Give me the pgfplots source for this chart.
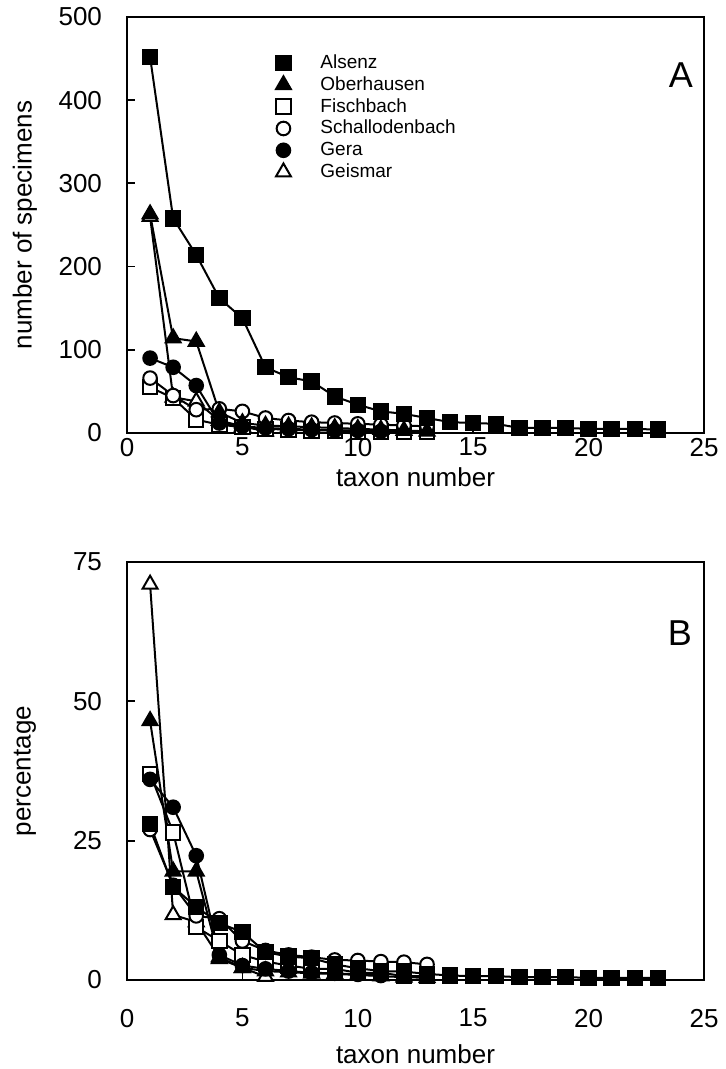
\documentclass[border=0pt]{standalone}
\usepackage{fontspec}
\setmainfont{Liberation Sans}
\usepackage{pgfplots}
\pgfplotsset{compat=1.18}
\pgfplotsset{
  mylegimg/.style={legend image code/.code={\path[draw=none,fill=none] (0pt,-3pt) rectangle (17pt,3pt); \draw[##1] plot coordinates {(8.5pt,0pt)};}},
  panel/.style={scale only axis, width=288.5pt, xmin=0, xmax=25, xtick={0,5,...,25}, ymin=0,
    axis line style={line width=1.4pt}, tick align=inside, xtick pos=bottom, ytick pos=left,
    major tick length=4pt, tick style={line width=0.9pt, black},
    font=\fontsize{13}{15}\selectfont, /pgf/number format/assume math mode=true,
    yticklabel style={xshift=-9pt},
    ylabel style={at={(axis description cs:-0.177,0.5)}, anchor=center},
    clip=false},
  ser/.style={line width=1pt, black, mark options={solid, line width=0.9pt, draw=black}},
  alsenz/.style={ser, mark=square*, mark size=3.6pt, mark options={fill=black}},
  ober/.style={ser, mark=triangle*, mark size=4.3pt, mark options={fill=black}},
  fisch/.style={ser, mark=square*, mark size=3.6pt, mark options={fill=white}},
  schall/.style={ser, mark=*, mark size=3.4pt, mark options={fill=white}},
  gera/.style={ser, mark=*, mark size=3.4pt, mark options={fill=black}},
  geis/.style={ser, mark=triangle*, mark size=4.3pt, mark options={fill=white}},
}
\begin{document}
\begin{tikzpicture}
\begin{axis}[panel, at={(63.5pt,318pt)}, anchor=south west, height=208pt, ymax=500,
  ytick={0,100,...,500},
  xlabel={taxon number}, ylabel={number of specimens},
  xticklabel style={yshift=1pt},
  xlabel style={at={(axis description cs:0.5,-0.107)}, anchor=center},
  legend style={at={(axis description cs:0.241,0.913)}, anchor=north west, draw=none, fill=none,
    inner sep=0pt, font=\fontsize{9.5}{11}\selectfont,
    nodes={inner sep=0pt, text height=7.5pt, text depth=2pt}, row sep=1.4pt, column sep=10pt},
  legend cell align=left]
\addlegendimage{only marks, alsenz, mylegimg}
\addlegendentry{Alsenz}
\addlegendimage{only marks, ober, mylegimg}
\addlegendentry{Oberhausen}
\addlegendimage{only marks, fisch, mylegimg}
\addlegendentry{Fischbach}
\addlegendimage{only marks, schall, mylegimg}
\addlegendentry{Schallodenbach}
\addlegendimage{only marks, gera, mylegimg}
\addlegendentry{Gera}
\addlegendimage{only marks, geis, mylegimg}
\addlegendentry{Geismar}
\addplot[geis, forget plot] coordinates {(1,260)(2,43)(3,38)(4,15)(5,8)(6,2)};
\addplot[fisch, forget plot] coordinates {(1,55)(2,42)(3,16)(4,10)(5,7)(6,5)(7,4)(8,3)(9,3)(10,2)(11,2)(12,1)(13,1)};
\addplot[schall, forget plot] coordinates {(1,66)(2,45)(3,28)(4,29)(5,26)(6,18)(7,15)(8,13)(9,12)(10,11)(11,10)(12,9)(13,8)};
\addplot[gera, forget plot] coordinates {(1,90)(2,79)(3,57)(4,12)(5,8)(6,6)(7,5)(8,4)(9,3)(10,3)(11,2)};
\addplot[ober, forget plot] coordinates {(1,263)(2,114)(3,110)(4,25)(5,12)(6,9)(7,8)(8,7)(9,6)(10,5)(11,4)(12,3)(13,2)};
\addplot[alsenz, forget plot] coordinates {(1,452)(2,258)(3,214)(4,162)(5,138)(6,79)(7,67)(8,62)(9,44)(10,34)(11,26)(12,23)(13,18)(14,13)(15,12)(16,11)(17,6)(18,6)(19,6)(20,5)(21,5)(22,5)(23,4)};
\node[font=\fontsize{18}{20}\selectfont] at (rel axis cs:0.960,0.861) {A};
\end{axis}
\begin{axis}[panel, at={(63.5pt,44.5pt)}, anchor=south west, height=209pt, ymax=75,
  ytick={0,25,50,75},
  xlabel={taxon number}, ylabel={percentage},
  xticklabel style={yshift=-11pt},
  xlabel style={at={(axis description cs:0.5,-0.177)}, anchor=center}]
\addplot[geis] coordinates {(1,71)(2,11.7)(3,10.4)(4,4.1)(5,2.2)(6,0.6)};
\addplot[fisch] coordinates {(1,37)(2,26.5)(3,9.5)(4,7)(5,4.5)(6,3.3)(7,2.6)(8,2)(9,2)(10,1.3)(11,1.3)(12,0.7)(13,0.7)};
\addplot[schall] coordinates {(1,27)(2,17)(3,11.5)(4,11)(5,7)(6,5.3)(7,4.5)(8,4.1)(9,3.6)(10,3.5)(11,3.3)(12,3.2)(13,2.8)};
\addplot[gera] coordinates {(1,36)(2,31)(3,22.3)(4,4.5)(5,2.6)(6,2)(7,1.6)(8,1.3)(9,1.2)(10,1)(11,0.8)};
\addplot[ober] coordinates {(1,46.5)(2,19.5)(3,19.5)(4,3.8)(5,2.2)(6,1.6)(7,1.4)(8,1.2)(9,1.1)(10,0.9)(11,0.7)(12,0.5)(13,0.4)};
\addplot[alsenz] coordinates {(1,28)(2,16.7)(3,13.1)(4,10.2)(5,8.6)(6,5)(7,4.2)(8,3.9)(9,2.8)(10,2.1)(11,1.6)(12,1.5)(13,1.1)(14,0.8)(15,0.7)(16,0.7)(17,0.5)(18,0.5)(19,0.5)(20,0.4)(21,0.4)(22,0.4)(23,0.4)};
\node[font=\fontsize{18}{20}\selectfont] at (rel axis cs:0.958,0.830) {B};
\end{axis}
\pgfresetboundingbox
\path[use as bounding box] (0,0) rectangle (363pt,534.5pt);
\end{tikzpicture}
\end{document}
